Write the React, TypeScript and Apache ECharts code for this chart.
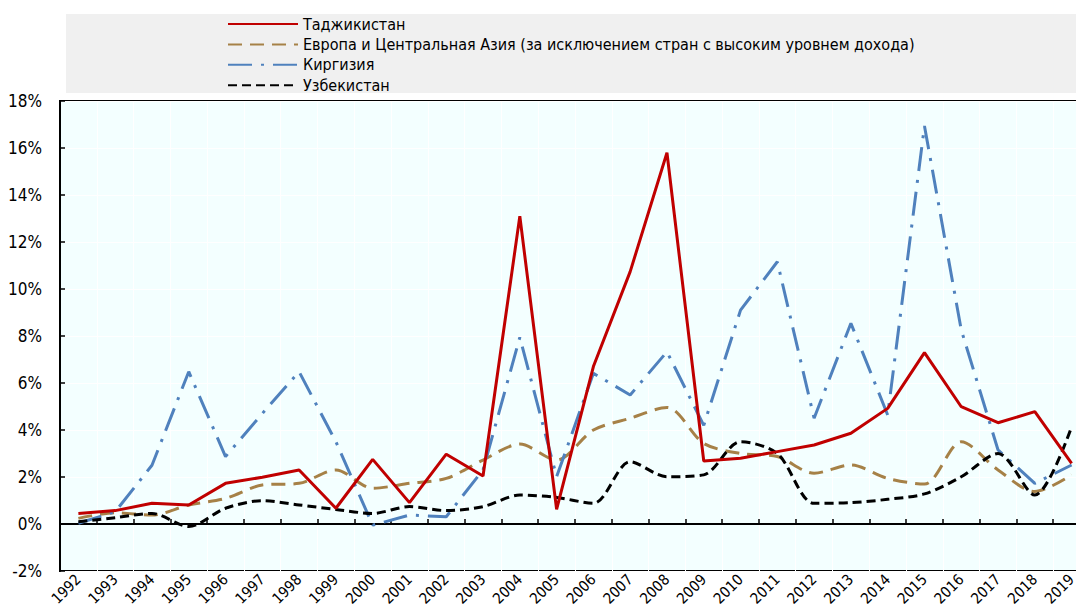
import React, { useEffect, useRef } from "react";
import * as echarts from "echarts";

const years = [
  "1992", "1993", "1994", "1995", "1996", "1997", "1998", "1999", "2000", "2001",
  "2002", "2003", "2004", "2005", "2006", "2007", "2008", "2009", "2010", "2011",
  "2012", "2013", "2014", "2015", "2016", "2017", "2018", "2019",
];

const tajikistan = [
  0.45, 0.57, 0.88, 0.81, 1.73, 1.99, 2.3, 0.67, 2.75, 0.91,
  2.97, 2.04, 13.1, 0.62, 6.7, 10.74, 15.8, 2.68, 2.8, 3.08,
  3.36, 3.86, 4.92, 7.29, 4.99, 4.31, 4.78, 2.58,
];

const europeCA = [
  0.24, 0.48, 0.38, 0.81, 1.09, 1.66, 1.73, 2.3, 1.52, 1.73,
  1.94, 2.72, 3.4, 2.72, 4.0, 4.5, 4.96, 3.43, 3.0, 2.87,
  2.16, 2.51, 1.94, 1.7, 3.5, 2.3, 1.38, 2.09,
];

const kyrgyzstan = [
  0.03, 0.52, 2.5, 6.48, 2.87, 4.7, 6.48, 3.5, -0.05, 0.38,
  0.31, 2.3, 7.94, 2.01, 6.41, 5.49, 7.33, 4.2, 9.1, 11.16,
  4.5, 8.54, 4.64, 16.94, 8.26, 3.15, 1.73, 2.51,
];

const uzbekistan = [
  0.1, 0.27, 0.45, -0.11, 0.67, 0.99, 0.81, 0.62, 0.45, 0.74,
  0.57, 0.74, 1.23, 1.13, 0.88, 2.65, 2.01, 2.09, 3.5, 3.0,
  0.88, 0.91, 1.05, 1.28, 2.01, 3.0, 1.23, 4.14,
];

const seriesNames = [
  "Таджикистан",
  "Европа и Центральная Азия (за исключением стран с высоким уровнем дохода)",
  "Киргизия",
  "Узбекистан",
];

const FONT = "'Liberation Sans Narrow', 'Arial Narrow', 'DejaVu Sans Condensed', sans-serif";

export default function App() {
  const ref = useRef<HTMLDivElement>(null);

  useEffect(() => {
    if (!ref.current) return;
    const chart = echarts.init(ref.current, undefined, { renderer: "svg" });
    chart.setOption({
      animation: false,
      backgroundColor: "#ffffff",
      textStyle: { fontFamily: FONT },
      graphic: [
        {
          type: "rect",
          z: -10,
          shape: { x: 66, y: 14, width: 1020, height: 79 },
          style: { fill: "#F0F0F0" },
        },
      ],
      legend: {
        orient: "vertical",
        left: 227,
        top: 14,
        itemWidth: 70,
        itemHeight: 14,
        itemGap: 0.4,
        padding: 0,
        itemStyle: { opacity: 0 },
        textStyle: { fontFamily: FONT, fontSize: 16, color: "#000", lineHeight: 20 },
        data: seriesNames,
      },
      grid: {
        left: 60,
        top: 101,
        right: -14,
        bottom: 38,
        outerBoundsMode: "none",
        containLabel: false,
        show: true,
        backgroundColor: "#F3FFFF",
        borderColor: "#000",
        borderWidth: 2,
      },
      xAxis: [
        {
          type: "category",
          data: years,
          position: "bottom",
          boundaryGap: true,
          axisLine: { show: false, onZero: false },
          axisTick: { show: false },
          axisLabel: {
            interval: 0,
            rotate: 45,
            fontSize: 15,
            color: "#000",
            fontFamily: FONT,
            margin: 6,
          },
          splitLine: { show: true, lineStyle: { color: "#ffffff", width: 1 } },
        },
        {
          type: "category",
          data: years,
          position: "bottom",
          boundaryGap: true,
          axisLine: { show: true, onZero: true, onZeroAxisIndex: 0, lineStyle: { color: "#000", width: 2 } },
          axisTick: { show: true, inside: true, length: 5, interval: 0, lineStyle: { color: "#000", width: 1.5 } },
          axisLabel: { show: false },
          splitLine: { show: false },
        },
      ],
      yAxis: {
        type: "value",
        min: -2,
        max: 18,
        interval: 2,
        axisLine: { show: true, lineStyle: { color: "#000", width: 2 } },
        axisTick: { show: true, inside: true, length: 5, lineStyle: { color: "#000", width: 1.5 } },
        axisLabel: {
          formatter: "{value}%",
          fontSize: 17,
          color: "#000",
          fontFamily: FONT,
          margin: 18,
        },
        splitLine: { show: true, lineStyle: { color: "#ffffff", width: 1 } },
      },
      series: [
        {
          name: seriesNames[0],
          type: "line",
          data: tajikistan,
          symbol: "none",
          z: 5,
          lineStyle: { color: "#C00000", width: 3 },
          itemStyle: { color: "#C00000" },
        },
        {
          name: seriesNames[1],
          type: "line",
          data: europeCA,
          symbol: "none",
          smooth: 0.3,
          z: 3,
          lineStyle: { color: "#A68147", width: 3, type: [14, 8] },
          itemStyle: { color: "#A68147" },
        },
        {
          name: seriesNames[2],
          type: "line",
          data: kyrgyzstan,
          symbol: "none",
          z: 4,
          lineStyle: { color: "#4F81BD", width: 3, type: [24, 9, 3, 9] },
          itemStyle: { color: "#4F81BD" },
        },
        {
          name: seriesNames[3],
          type: "line",
          data: uzbekistan,
          symbol: "none",
          smooth: 0.3,
          z: 4,
          lineStyle: { color: "#000000", width: 3, type: [9, 5] },
          itemStyle: { color: "#000000" },
        },
      ],
    });
    return () => chart.dispose();
  }, []);

  return (
    <div
      ref={ref}
      style={{ position: "fixed", left: 0, top: 0, width: 1076, height: 609, background: "#fff" }}
    />
  );
}
